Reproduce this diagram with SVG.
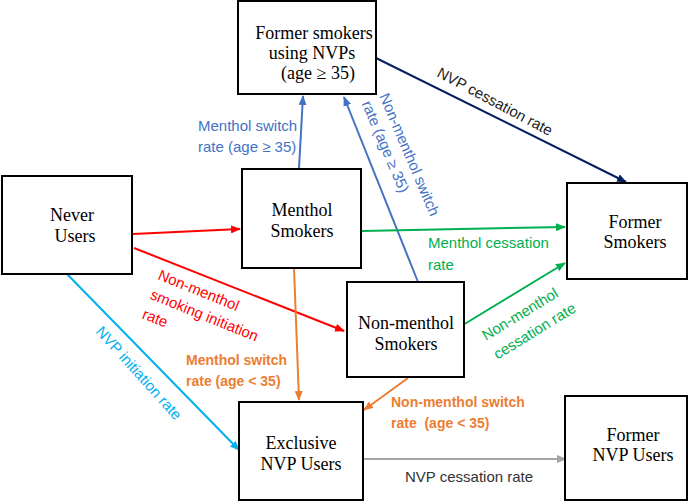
<svg xmlns="http://www.w3.org/2000/svg" width="689" height="502" viewBox="0 0 689 502">
<style>
.box{fill:#fff;stroke:#000;stroke-width:2}
.nt{font-family:"Liberation Serif","Times New Roman",serif;font-size:18px;fill:#000;text-anchor:middle}
.lb{font-family:"Liberation Sans",Arial,sans-serif;font-size:15px}
.bd{font-weight:bold;font-size:14px}
.c{fill:none;stroke-width:2}
</style>
<defs>
<marker id="aR" markerWidth="10" markerHeight="8" refX="9" refY="4" orient="auto" markerUnits="userSpaceOnUse"><path d="M0,0 L10,4 L0,8 Z" fill="#FF0000"/></marker>
<marker id="aC" markerWidth="10" markerHeight="8" refX="9" refY="4" orient="auto" markerUnits="userSpaceOnUse"><path d="M0,0 L10,4 L0,8 Z" fill="#00B0F0"/></marker>
<marker id="aB" markerWidth="10" markerHeight="8" refX="9" refY="4" orient="auto" markerUnits="userSpaceOnUse"><path d="M0,0 L10,4 L0,8 Z" fill="#4472C4"/></marker>
<marker id="aN" markerWidth="10" markerHeight="8" refX="9" refY="4" orient="auto" markerUnits="userSpaceOnUse"><path d="M0,0 L10,4 L0,8 Z" fill="#002060"/></marker>
<marker id="aG" markerWidth="10" markerHeight="8" refX="9" refY="4" orient="auto" markerUnits="userSpaceOnUse"><path d="M0,0 L10,4 L0,8 Z" fill="#00B050"/></marker>
<marker id="aO" markerWidth="10" markerHeight="8" refX="9" refY="4" orient="auto" markerUnits="userSpaceOnUse"><path d="M0,0 L10,4 L0,8 Z" fill="#ED7D31"/></marker>
<marker id="aY" markerWidth="10" markerHeight="8" refX="9" refY="4" orient="auto" markerUnits="userSpaceOnUse"><path d="M0,0 L10,4 L0,8 Z" fill="#A5A5A5"/></marker>
</defs>
<rect width="689" height="502" fill="#fff"/>

<g id="connectors">
<line class="c" stroke="#FF0000" x1="133" y1="234" x2="240" y2="229" marker-end="url(#aR)"/>
<line class="c" stroke="#FF0000" x1="134" y1="248" x2="344" y2="331" marker-end="url(#aR)"/>
<line class="c" stroke="#00B0F0" x1="67" y1="274" x2="239" y2="450" marker-end="url(#aC)"/>
<line class="c" stroke="#4472C4" x1="299" y1="168" x2="303" y2="96" marker-end="url(#aB)"/>
<line class="c" stroke="#4472C4" x1="418" y1="282" x2="344" y2="97" marker-end="url(#aB)"/>
<line class="c" stroke="#002060" x1="376" y1="58" x2="626" y2="182" marker-end="url(#aN)"/>
<line class="c" stroke="#00B050" x1="362" y1="231" x2="565" y2="227" marker-end="url(#aG)"/>
<line class="c" stroke="#00B050" x1="458" y1="328" x2="565" y2="263" marker-end="url(#aG)"/>
<line class="c" stroke="#ED7D31" x1="294" y1="268" x2="299" y2="400" marker-end="url(#aO)"/>
<line class="c" stroke="#ED7D31" x1="408" y1="378" x2="364" y2="410" marker-end="url(#aO)"/>
<line class="c" stroke="#A5A5A5" x1="364" y1="459" x2="566" y2="459" marker-end="url(#aY)"/>
</g>

<g id="labels">
<text class="lb" fill="#4472C4"><tspan x="198" y="131">Menthol switch</tspan><tspan x="198" y="152">rate (age ≥ 35)</tspan></text>
<text class="lb" fill="#4472C4" transform="translate(379,96) rotate(67)"><tspan x="0" y="0">Non-menthol switch</tspan><tspan x="0" y="19">rate (age ≥ 35)</tspan></text>
<text class="lb" fill="#222" transform="translate(436,76) rotate(28)">NVP cessation rate</text>
<text class="lb" fill="#00B050"><tspan x="428" y="248">Menthol cessation</tspan><tspan x="428" y="270">rate</tspan></text>
<text class="lb" fill="#00B050" transform="translate(486,341) rotate(-31.5)"><tspan x="0" y="0">Non-menthol</tspan><tspan x="0" y="22">cessation rate</tspan></text>
<text class="lb" fill="#FF0000" transform="translate(157,279) rotate(22)"><tspan x="0" y="0">Non-menthol</tspan><tspan x="0" y="21">smoking initiation</tspan><tspan x="0" y="42">rate</tspan></text>
<text class="lb" fill="#00B0F0" transform="translate(95,332) rotate(48)">NVP initiation rate</text>
<text class="lb bd" fill="#ED7D31"><tspan x="186" y="365">Menthol switch</tspan><tspan x="186" y="386">rate (age &lt; 35)</tspan></text>
<text class="lb bd" fill="#ED7D31" xml:space="preserve"><tspan x="391" y="407">Non-menthol switch</tspan><tspan x="391" y="428">rate  (age &lt; 35)</tspan></text>
<text class="lb" fill="#333" x="405" y="482">NVP cessation rate</text>
</g>

<g id="former-nvp-smokers"><rect class="box" x="238" y="1" width="138" height="93"/><text class="nt"><tspan x="314" y="39">Former smokers</tspan><tspan x="312" y="59">using NVPs</tspan><tspan x="318" y="79">(age ≥ 35)</tspan></text></g>
<g id="never-users"><rect class="box" x="2" y="176" width="130" height="98"/><text class="nt"><tspan x="72" y="221">Never</tspan><tspan x="75" y="242">Users</tspan></text></g>
<g id="menthol-smokers"><rect class="box" x="242" y="169" width="119" height="99"/><text class="nt"><tspan x="302" y="216">Menthol</tspan><tspan x="302" y="237">Smokers</tspan></text></g>
<g id="former-smokers"><rect class="box" x="567" y="183" width="120" height="96"/><text class="nt"><tspan x="635" y="228">Former</tspan><tspan x="635" y="248">Smokers</tspan></text></g>
<g id="non-menthol-smokers"><rect class="box" x="347" y="282" width="117" height="95"/><text class="nt"><tspan x="406" y="329">Non-menthol</tspan><tspan x="406" y="350">Smokers</tspan></text></g>
<g id="exclusive-nvp"><rect class="box" x="239" y="402" width="124" height="98"/><text class="nt"><tspan x="301" y="449">Exclusive</tspan><tspan x="301" y="470">NVP Users</tspan></text></g>
<g id="former-nvp-users"><rect class="box" x="565" y="396" width="122" height="104"/><text class="nt"><tspan x="633" y="441">Former</tspan><tspan x="633" y="461">NVP Users</tspan></text></g>
</svg>
